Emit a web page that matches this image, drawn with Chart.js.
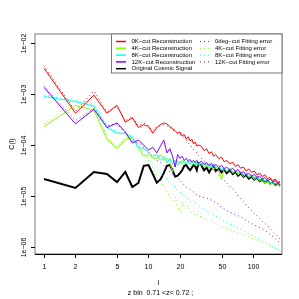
<!DOCTYPE html>
<html>
<head>
<meta charset="utf-8">
<script src="https://cdn.jsdelivr.net/npm/chart.js@4.4.1/dist/chart.umd.min.js"></script>
<style>
  html, body { margin: 0; padding: 0; background: #fff; }
  #cl { display: block; }
</style>
</head>
<body>
<canvas id="cl" width="299" height="299"></canvas>
<script>
// multipole l (shared x for every series)
const ells = [1,2,3,4,5,6,7,8,9,10,11,12,13,14,15,16,17,18,19,20,21,22,23,24,25,26,27,28,29,30,
  32,34,36,38,40,42,44,47,50,53,56,60,64,68,72,76,81,86,91,97,103,109,116,123,130,138,146,155,164,173,181];

const rec0K = [3.2e-3,4.2e-4,9.5e-4,4.2e-4,6.0e-4,2.8e-4,3.4e-4,2.2e-4,2.5e-4,2.3e-4,1.7e-4,2.2e-4,2.5e-4,2.7e-4,2.6e-4,2.3e-4,2.1e-4,1.9e-4,1.7e-4,1.8e-4,1.5e-4,1.6e-4,1.3e-4,1.45e-4,1.2e-4,1.3e-4,1.05e-4,1.15e-4,9.5e-5,1.0e-4,
  9.5e-5,7.8e-5,8.4e-5,6.8e-5,7.4e-5,6.0e-5,6.5e-5,5.4e-5,5.8e-5,4.7e-5,5.0e-5,4.3e-5,4.6e-5,3.8e-5,4.1e-5,3.5e-5,3.7e-5,3.1e-5,3.4e-5,2.9e-5,3.1e-5,2.6e-5,2.8e-5,2.4e-5,2.6e-5,2.2e-5,2.3e-5,2.0e-5,2.15e-5,1.8e-5,1.95e-5];
const rec4K = [2.3e-4,6.0e-4,4.8e-4,1.3e-4,8.5e-5,1.3e-4,1.4e-4,9.0e-5,6.0e-5,6.5e-5,5.5e-5,5.5e-5,6.5e-5,5.0e-5,5.5e-5,4.5e-5,3.0e-5,4.2e-5,4.8e-5,4.4e-5,5.0e-5,4.6e-5,4.2e-5,4.8e-5,4.5e-5,4.0e-5,4.4e-5,4.6e-5,3.9e-5,4.3e-5,
  4.4e-5,3.7e-5,4.1e-5,3.5e-5,4.0e-5,3.3e-5,3.8e-5,3.2e-5,2.1e-5,3.5e-5,3.0e-5,3.4e-5,2.8e-5,3.1e-5,2.6e-5,2.9e-5,2.4e-5,2.7e-5,2.3e-5,2.5e-5,2.1e-5,2.3e-5,1.95e-5,2.1e-5,1.8e-5,1.95e-5,1.7e-5,1.8e-5,1.55e-5,1.7e-5,1.5e-5];
const rec8K = [8.9e-4,7.1e-4,5.8e-4,2.2e-4,1.7e-4,1.7e-4,1.4e-4,9.0e-5,8.5e-5,7.5e-5,6.0e-5,6.5e-5,5.0e-5,6.0e-5,4.5e-5,5.5e-5,4.2e-5,5.0e-5,4.0e-5,4.8e-5,4.3e-5,5.0e-5,4.4e-5,4.7e-5,4.2e-5,4.8e-5,4.3e-5,4.0e-5,4.6e-5,4.2e-5,
  4.0e-5,4.6e-5,3.8e-5,4.3e-5,3.6e-5,4.1e-5,3.5e-5,3.9e-5,3.3e-5,3.6e-5,3.1e-5,3.5e-5,2.9e-5,3.2e-5,2.8e-5,3.0e-5,2.6e-5,2.8e-5,2.4e-5,2.6e-5,2.25e-5,2.4e-5,2.1e-5,2.25e-5,1.95e-5,2.1e-5,1.8e-5,1.9e-5,1.7e-5,1.8e-5,1.6e-5];
const rec12K = [1.35e-3,2.6e-4,5.0e-4,2.2e-4,2.7e-4,1.8e-4,1.1e-4,1.25e-4,1.0e-4,8.0e-5,9.0e-5,7.0e-5,9.5e-5,1.25e-4,7.0e-5,8.5e-5,6.0e-5,3.7e-5,6.5e-5,5.5e-5,6.0e-5,5.0e-5,5.5e-5,4.8e-5,5.2e-5,4.6e-5,5.0e-5,4.5e-5,5.0e-5,4.4e-5,
  4.8e-5,4.1e-5,4.5e-5,3.9e-5,4.4e-5,3.7e-5,4.2e-5,3.6e-5,4.0e-5,3.4e-5,3.7e-5,3.2e-5,3.5e-5,3.0e-5,3.3e-5,2.8e-5,3.0e-5,2.6e-5,2.8e-5,2.45e-5,2.65e-5,2.3e-5,2.45e-5,2.15e-5,2.3e-5,2.0e-5,2.15e-5,1.9e-5,2.0e-5,1.75e-5,1.85e-5];
const original = [2.15e-5,1.44e-5,2.96e-5,2.7e-5,1.88e-5,2.96e-5,1.5e-5,1.8e-5,3.9e-5,4.05e-5,2.7e-5,1.82e-5,2.1e-5,2.8e-5,3.9e-5,4.05e-5,3.15e-5,2.4e-5,2.5e-5,2.8e-5,3.2e-5,3.9e-5,4.05e-5,3.5e-5,3.2e-5,3.6e-5,4.05e-5,3.8e-5,3.2e-5,4.4e-5,
  4.0e-5,3.2e-5,3.6e-5,2.9e-5,3.5e-5,3.9e-5,3.1e-5,3.4e-5,2.9e-5,3.3e-5,2.8e-5,3.2e-5,2.7e-5,3.0e-5,2.5e-5,2.8e-5,2.4e-5,2.6e-5,2.2e-5,2.4e-5,2.1e-5,2.3e-5,1.95e-5,2.1e-5,1.85e-5,2.0e-5,1.75e-5,1.85e-5,1.65e-5,1.75e-5,1.6e-5];

const err0deg = [3.6e-3,4.6e-4,1.15e-3,4.5e-4,5.6e-4,3.0e-4,3.6e-4,2.4e-4,2.7e-4,2.4e-4,1.9e-4,2.3e-4,2.4e-4,2.5e-4,2.4e-4,2.2e-4,2.0e-4,1.8e-4,1.7e-4,1.6e-4,1.5e-4,1.4e-4,1.25e-4,1.1e-4,1.0e-4,9.0e-5,8.2e-5,7.5e-5,7.0e-5,6.3e-5,
  5.5e-5,4.9e-5,4.5e-5,3.9e-5,3.6e-5,3.1e-5,2.9e-5,2.6e-5,2.2e-5,2.0e-5,1.8e-5,1.55e-5,1.35e-5,1.2e-5,1.0e-5,9.0e-6,7.8e-6,6.6e-6,5.9e-6,5.2e-6,4.5e-6,4.1e-6,3.6e-6,3.2e-6,2.9e-6,2.6e-6,2.3e-6,2.0e-6,1.8e-6,1.6e-6,1.45e-6];
const err4K = [2.6e-4,7.5e-4,5.5e-4,1.5e-4,9.0e-5,1.4e-4,1.6e-4,1.0e-4,7.0e-5,5.0e-5,3.5e-5,2.5e-5,1.8e-5,1.6e-5,1.2e-5,1.0e-5,8.0e-6,9.5e-6,6.0e-6,5.0e-6,7.5e-6,6.0e-6,5.5e-6,6.5e-6,5.0e-6,4.8e-6,5.2e-6,4.2e-6,4.5e-6,4.0e-6,
  3.9e-6,3.6e-6,3.5e-6,3.2e-6,3.3e-6,2.9e-6,2.8e-6,2.6e-6,2.3e-6,2.5e-6,2.3e-6,2.2e-6,2.0e-6,2.05e-6,1.9e-6,1.85e-6,1.75e-6,1.65e-6,1.6e-6,1.5e-6,1.45e-6,1.35e-6,1.3e-6,1.25e-6,1.2e-6,1.1e-6,1.05e-6,1.0e-6,9.5e-7,9.0e-7,8.5e-7];
const err8K = [9.5e-4,7.5e-4,6.2e-4,2.4e-4,1.8e-4,1.6e-4,1.2e-4,8.0e-5,6.5e-5,5.5e-5,4.2e-5,3.5e-5,3.0e-5,2.4e-5,2.2e-5,1.8e-5,1.6e-5,1.5e-5,1.3e-5,1.2e-5,1.1e-5,9.5e-6,1.0e-5,8.5e-6,8.0e-6,7.5e-6,7.8e-6,7.0e-6,7.2e-6,6.5e-6,
  6.0e-6,5.5e-6,5.1e-6,4.8e-6,4.5e-6,4.3e-6,4.0e-6,3.7e-6,3.4e-6,3.2e-6,3.0e-6,2.8e-6,2.6e-6,2.45e-6,2.3e-6,2.2e-6,2.1e-6,1.95e-6,1.85e-6,1.7e-6,1.6e-6,1.5e-6,1.4e-6,1.3e-6,1.25e-6,1.15e-6,1.1e-6,1.02e-6,9.5e-7,9.0e-7,8.5e-7];
const err12K = [1.45e-3,3.0e-4,5.2e-4,2.4e-4,2.6e-4,1.7e-4,1.2e-4,1.1e-4,9.0e-5,7.0e-5,6.0e-5,5.0e-5,4.5e-5,4.0e-5,3.3e-5,3.0e-5,2.6e-5,2.3e-5,2.2e-5,2.0e-5,1.8e-5,1.6e-5,1.5e-5,1.4e-5,1.35e-5,1.25e-5,1.2e-5,1.1e-5,1.05e-5,1.0e-5,
  9.8e-6,9.2e-6,9.0e-6,8.6e-6,8.3e-6,8.0e-6,7.4e-6,6.9e-6,6.0e-6,5.6e-6,5.2e-6,4.8e-6,4.6e-6,4.3e-6,4.1e-6,3.9e-6,3.6e-6,3.3e-6,3.1e-6,2.9e-6,2.7e-6,2.55e-6,2.4e-6,2.25e-6,2.1e-6,1.95e-6,1.75e-6,1.6e-6,1.45e-6,1.3e-6,1.2e-6];

const xTicks = [1, 2, 5, 10, 20, 50, 100];
const yTicks = [1e-2, 1e-3, 1e-4, 1e-5, 1e-6];
const yTickLabels = ["1e\u221202", "1e\u221203", "1e\u221204", "1e\u221205", "1e\u221206"];

const FONT = '"Liberation Sans", Arial, sans-serif';
const pts = arr => ells.map((l, i) => ({ x: l, y: arr[i] }));

function line(label, arr, color, dotted, width, order) {
  return {
    label: label,
    data: pts(arr),
    borderColor: color,
    borderWidth: width,
    borderDash: dotted ? [1, 3] : [],
    pointRadius: 0,
    tension: 0,
    fill: false,
    order: order
  };
}

const datasets = [
  line("0K\u2212cut Reconstruction", rec0K, "#FF0000", false, 1, 1),
  line("4K\u2212cut Reconstruction", rec4K, "#80FF00", false, 1, 4),
  line("8K\u2212cut Reconstruction", rec8K, "#00FFFF", false, 1, 3),
  line("12K\u2212cut Reconstruction", rec12K, "#8000FF", false, 1, 2),
  line("Original Cosmic Signal", original, "#000000", false, 2, 9),
  line("0deg\u2212cut Fitting error", err0deg, "#FF0000", true, 1, 5),
  line("4K\u2212cut Fitting error", err4K, "#80FF00", true, 1, 8),
  line("8K\u2212cut Fitting error", err8K, "#00FFFF", true, 1, 7),
  line("12K\u2212cut Fitting error", err12K, "#8000FF", true, 1, 6)
];

// R style box, axes, titles and the two-column legend
const rFrame = {
  id: "rFrame",
  afterDraw(chart) {
    const c = chart.ctx;
    const a = chart.chartArea;
    const xs = chart.scales.x, ys = chart.scales.y;
    c.save();
    c.strokeStyle = "#000";
    c.fillStyle = "#000";
    c.lineWidth = 1;
    c.setLineDash([]);
    c.strokeStyle = "#777";
    c.strokeRect(a.left, a.top, a.right - a.left, a.bottom - a.top);
    c.strokeStyle = "#000";
    c.beginPath();
    c.moveTo(a.left, a.bottom + 0.5);
    c.lineTo(a.right, a.bottom + 0.5);
    c.stroke();

    c.font = "7px " + FONT;
    c.textAlign = "center";
    c.textBaseline = "middle";
    xTicks.forEach(t => {
      const px = Math.round(xs.getPixelForValue(t)) + 0.5;
      c.beginPath();
      c.moveTo(px, a.bottom);
      c.lineTo(px, a.bottom + 4);
      c.stroke();
      c.fillText(String(t), px, a.bottom + 13);
    });
    yTicks.forEach((t, i) => {
      const py = Math.round(ys.getPixelForValue(t)) + 0.5;
      c.beginPath();
      c.moveTo(a.left, py);
      c.lineTo(a.left - 4, py);
      c.stroke();
      c.save();
      c.translate(a.left - 11, py);
      c.rotate(-Math.PI / 2);
      c.fillText(yTickLabels[i], 0, 0);
      c.restore();
    });

    const cx = (a.left + a.right) / 2;
    c.fillText("l", cx, a.bottom + 29);
    c.fillText("z bin  0.71 <z< 0.72 ;", cx + 2, a.bottom + 39);
    c.save();
    c.translate(12, (a.top + a.bottom) / 2);
    c.rotate(-Math.PI / 2);
    c.fillText("C(l)", 0, 0);
    c.restore();

    // legend box
    const lx = 111.5, ly = a.top, lw = a.right - 111.5, lh = 39;
    c.fillStyle = "#fff";
    c.fillRect(lx, ly, lw, lh);
    c.strokeStyle = "#777";
    c.strokeRect(lx, ly, lw, lh);
    c.font = "6px " + FONT;
    c.textAlign = "left";
    const ds = chart.data.datasets;
    const cols = [{ seg: 116, txt: 131.5, items: [0, 1, 2, 3, 4] },
                  { seg: 200, txt: 215, items: [5, 6, 7, 8] }];
    cols.forEach(col => {
      col.items.forEach((k, r) => {
        const y = ly + 7.5 + r * 6.8;
        const d = ds[k];
        c.strokeStyle = d.borderColor;
        c.lineWidth = d.borderDash.length ? 1 : 1.5;
        c.setLineDash(d.borderDash);
        c.beginPath();
        c.moveTo(col.seg, y);
        c.lineTo(col.seg + 10, y);
        c.stroke();
        c.setLineDash([]);
        c.fillStyle = "#000";
        c.fillText(d.label, col.txt, y);
      });
    });
    c.restore();
  }
};

new Chart(document.getElementById("cl").getContext("2d"), {
  type: "line",
  data: { datasets: datasets },
  options: {
    responsive: false,
    animation: false,
    devicePixelRatio: 1,
    layout: { padding: { left: 35, right: 17, top: 34, bottom: 45 } },
    scales: {
      x: { type: "logarithmic", min: 0.82, max: 189.5, display: false },
      y: { type: "logarithmic", min: 7.29e-7, max: 0.01501, display: false }
    },
    plugins: { legend: { display: false }, tooltip: { enabled: false } }
  },
  plugins: [rFrame]
});
</script>
</body>
</html>
